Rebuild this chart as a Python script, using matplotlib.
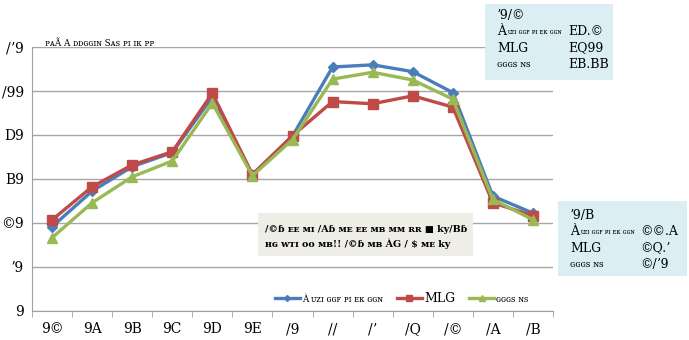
import numpy as np
import matplotlib
matplotlib.use("Agg")
import matplotlib.pyplot as plt
from matplotlib.ticker import FixedLocator

# text in the source is rendered with a broken glyph mapping, kept as seen
plt.rcParams['font.family'] = ['DejaVu Serif', 'DejaVu Sans']

# category labels (as drawn) and series values
xlabels = ['9©', '9A', '9B', '9C', '9D', '9E', '/9', '//', '/ʼ', '/Q', '/©', '/A', '/B']
ylabels = ['9', 'ʼ9', '©9', 'B9', 'D9', '/99', '/ʼ9']
yticks = [0, 20, 40, 60, 80, 100, 120]

blue = [38.3, 54.5, 65.6, 72.0, 97.3, 62.0, 79.5, 110.9, 111.9, 108.8, 99.3, 52.2, 44.5]
red = [41.4, 56.5, 66.4, 72.4, 99.0, 62.0, 79.7, 95.2, 94.2, 97.8, 92.7, 49.2, 43.3]
green = [33.3, 49.2, 61.0, 68.2, 94.5, 61.5, 77.9, 105.4, 108.5, 105.0, 96.3, 50.7, 41.5]

names = ['À ᴜᴢɪ ɢɢꜰ ᴘɪ ᴇᴋ ɢɢɴ', 'MLG', 'ɢɢɢꜱ ɴꜱ']
colors = ['#4a7ebb', '#be4b48', '#98b954']
markers = ['D', 's', '^']
msizes = [5, 7.5, 7.5]

unit_label = 'ᴘᴀÃ A ᴅᴅɢɢɪɴ Sᴀꜱ ᴘɪ ɪᴋ ᴘᴘ'
note_lines = ['/©ɓ ᴇᴇ ᴍɪ /Aɓ ᴍᴇ ᴇᴇ ᴍʙ ᴍᴍ ʀʀ ■ ky/Bɓ',
              'ʜɢ ᴡᴛɪ ᴏᴏ ᴍʙ!! /©ɓ ᴍʙ ÀG / $ ᴍᴇ ky']

box_top = ['ʼ9/©', 'ED.©', 'EQ99', 'EB.BB']
box_bot = ['ʼ9/B', '©©.A', '©Q.ʼ', '©/ʼ9']

W, H = 689, 340
fig = plt.figure(figsize=(W / 100, H / 100), dpi=100)
ax = fig.add_axes([32 / W, 29 / H, (553 - 32) / W, (311 - 47) / H])

x = np.arange(len(xlabels))
series = [blue, red, green]
for vals, nm, c, m, ms in zip(series, names, colors, markers, msizes):
    ax.plot(x, vals, color=c, marker=m, markersize=ms, linewidth=2.4,
            label=nm, zorder=3)

ax.set_xlim(-0.5, len(xlabels) - 0.5)
ax.set_ylim(0, 120)
ax.set_yticks(yticks)
ax.set_yticklabels(ylabels, fontsize=10)
ax.set_xticks(x)
ax.set_xticklabels(xlabels, fontsize=10)
ax.xaxis.set_minor_locator(FixedLocator(np.arange(-0.5, len(xlabels), 1)))
ax.tick_params(axis='x', which='major', length=0, pad=8)
ax.tick_params(axis='x', which='minor', length=4, color='#a0a0a0')
ax.tick_params(axis='y', length=0, pad=6)
ax.grid(axis='y', color='#a6a6a6', linewidth=1)
ax.set_axisbelow(True)
for s in ['top', 'right']:
    ax.spines[s].set_visible(False)
ax.spines['left'].set_color('#a0a0a0')
ax.spines['bottom'].set_color('#a0a0a0')

leg = ax.legend(loc='center', bbox_to_anchor=(402 / W, (340 - 298) / H),
                bbox_transform=fig.transFigure, ncol=3, frameon=False,
                fontsize=6.3, handlelength=2.8, columnspacing=1.6,
                handletextpad=0.3, markerscale=0.6)
leg.get_texts()[1].set_fontsize(9)

fig.text(45 / W, 1 - 43 / H, unit_label, fontsize=6.3, va='center')

# middle note box
fig.patches.append(plt.Rectangle((258 / W, 1 - 256 / H), (473 - 258) / W,
                                 (256 - 213) / H, transform=fig.transFigure,
                                 facecolor='#eeede6', edgecolor='none', zorder=4))
for i, ln in enumerate(note_lines):
    fig.text(265 / W, 1 - (229 + 15 * i) / H, ln, fontsize=6.8, va='center',
             fontweight='bold', zorder=5)

def draw_name(lx, yy, nm):
    # big lead glyph followed by tiny ones, as in the source
    if nm.startswith('À '):
        fig.text(lx / W, yy, 'À', fontsize=9, va='center', zorder=5)
        fig.text((lx + 10) / W, yy, nm[2:], fontsize=4.8, va='center', zorder=5)
    elif nm == 'MLG':
        fig.text(lx / W, yy, nm, fontsize=9, va='center', zorder=5)
    else:
        fig.text(lx / W, yy, nm, fontsize=6.5, va='center', zorder=5)

# value boxes
def value_box(x0, y0, x1, y1, head, vals, lx, vx, ly):
    fig.patches.append(plt.Rectangle((x0 / W, 1 - y1 / H), (x1 - x0) / W,
                                     (y1 - y0) / H, transform=fig.transFigure,
                                     facecolor='#daeef3', edgecolor='none', zorder=4))
    fig.text(lx / W, 1 - ly / H, head, fontsize=9, va='center', zorder=5)
    for i, (nm, v) in enumerate(zip(names, vals)):
        yy = 1 - (ly + 16.5 * (i + 1)) / H
        draw_name(lx, yy, nm)
        fig.text(vx / W, yy, v, fontsize=9, va='center', zorder=5)

value_box(485, 4, 613, 80, box_top[0], box_top[1:], 497, 568, 15)
value_box(558, 201, 687, 276, box_bot[0], box_bot[1:], 570, 640, 215)

fig.savefig('out.png', dpi=100)
